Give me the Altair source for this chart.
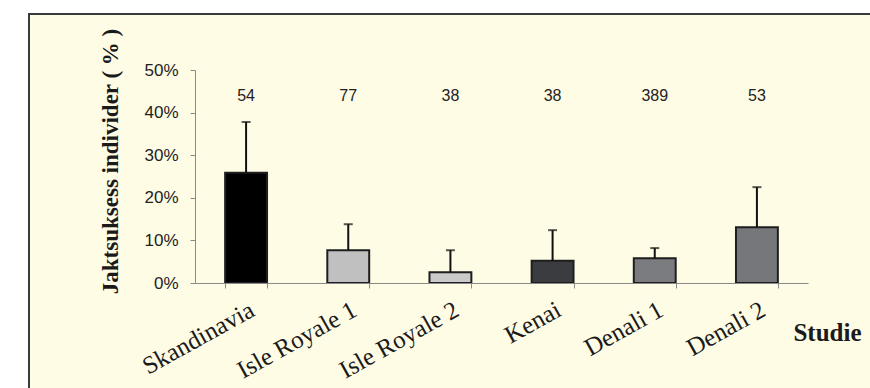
import altair as alt
import pandas as pd

# Hunting success per study: mean share, upper error limit, sample size
studies = ["Skandinavia", "Isle Royale 1", "Isle Royale 2", "Kenai", "Denali 1", "Denali 2"]
success = [0.259, 0.077, 0.025, 0.052, 0.058, 0.131]
upper = [0.378, 0.138, 0.077, 0.124, 0.082, 0.225]
counts = ["54", "77", "38", "38", "389", "53"]
bar_colors = ["#000000", "#c0c0c0", "#cacaca", "#3b3c3f", "#7b7c80", "#76777b"]
count_label_level = 0.439

df = pd.DataFrame({
    "Studie": studies,
    "andel": success,
    "ovre": upper,
    "n": counts,
    "farge": bar_colors,
    "niva": [count_label_level] * len(studies),
})

W, H = 613, 213
PAD_L, PAD_T = 195, 70
CREAM = "#fffce6"

x_enc = alt.X(
    "Studie:N",
    sort=studies,
    scale=alt.Scale(paddingInner=0.59, paddingOuter=0.295),
    axis=alt.Axis(
        title="Studie",
        titleFont="Liberation Serif",
        titleFontWeight="bold",
        titleFontSize=25,
        titleColor="#1a1a1a",
        titleX=632,
        titleY=49,
        titleAlign="center",
        titleBaseline="middle",
        labelFont="Liberation Serif",
        labelFontSize=25,
        labelColor="#1a1a1a",
        labelAngle=331,
        labelAlign="right",
        labelBaseline="top",
        labelPadding=9,
        labelOverlap=False,
        tickBand="extent",
        tickSize=5,
        tickColor="#8a8a8a",
        domainColor="#8a8a8a",
        zindex=1,
    ),
)

y_scale = alt.Scale(domain=[0, 0.5], nice=False)
y_axis = alt.Axis(
    title="Jaktsuksess individer ( % )",
    titleFont="Liberation Serif",
    titleFontWeight="bold",
    titleFontSize=23,
    titleColor="#1a1a1a",
    titleAngle=270,
    titleX=-85,
    titleY=91,
    titleAlign="center",
    titleBaseline="middle",
    format=".0%",
    values=[0, 0.1, 0.2, 0.3, 0.4, 0.5],
    labelFont="Liberation Sans",
    labelFontSize=17,
    labelColor="#222222",
    labelPadding=12,
    tickSize=5,
    tickColor="#8a8a8a",
    domainColor="#8a8a8a",
    grid=False,
    zindex=1,
)

# Cream panel with a dark frame behind the plot
panel = alt.Chart(alt.Data(values=[{"p": 1}])).mark_rect(
    fill=CREAM, stroke="#3a3a3a", strokeWidth=2, clip=False
).encode(
    x=alt.value(29 - PAD_L),
    x2=alt.value(880 - PAD_L),
    y=alt.value(14 - PAD_T),
    y2=alt.value(400 - PAD_T),
)

base = alt.Chart(df)

bars = base.mark_bar(stroke="#1e1e1e", strokeWidth=2).encode(
    x=x_enc,
    y=alt.Y("andel:Q", scale=y_scale, axis=y_axis),
    fill=alt.Fill("farge:N", scale=None),
)

err = base.mark_rule(color="#111111", strokeWidth=2).encode(
    x=alt.X("Studie:N", sort=studies),
    y=alt.Y("andel:Q", scale=y_scale),
    y2="ovre:Q",
)

caps = base.mark_tick(color="#111111", thickness=2, size=9).encode(
    x=alt.X("Studie:N", sort=studies),
    y=alt.Y("ovre:Q", scale=y_scale),
)

labels = base.mark_text(
    font="Liberation Sans", fontSize=16, color="#222222", baseline="middle"
).encode(
    x=alt.X("Studie:N", sort=studies),
    y=alt.Y("niva:Q", scale=y_scale),
    text="n:N",
)

chart = (
    alt.layer(panel, bars, err, caps, labels)
    .properties(
        width=W,
        height=H,
        background="#ffffff",
        padding={"left": PAD_L, "top": PAD_T, "right": 870 - PAD_L - W, "bottom": 388 - PAD_T - H},
        autosize=alt.AutoSizeParams(type="none"),
    )
    .configure_view(stroke=None)
)

chart.save("out.html", embed_options={"renderer": "svg", "actions": False})
